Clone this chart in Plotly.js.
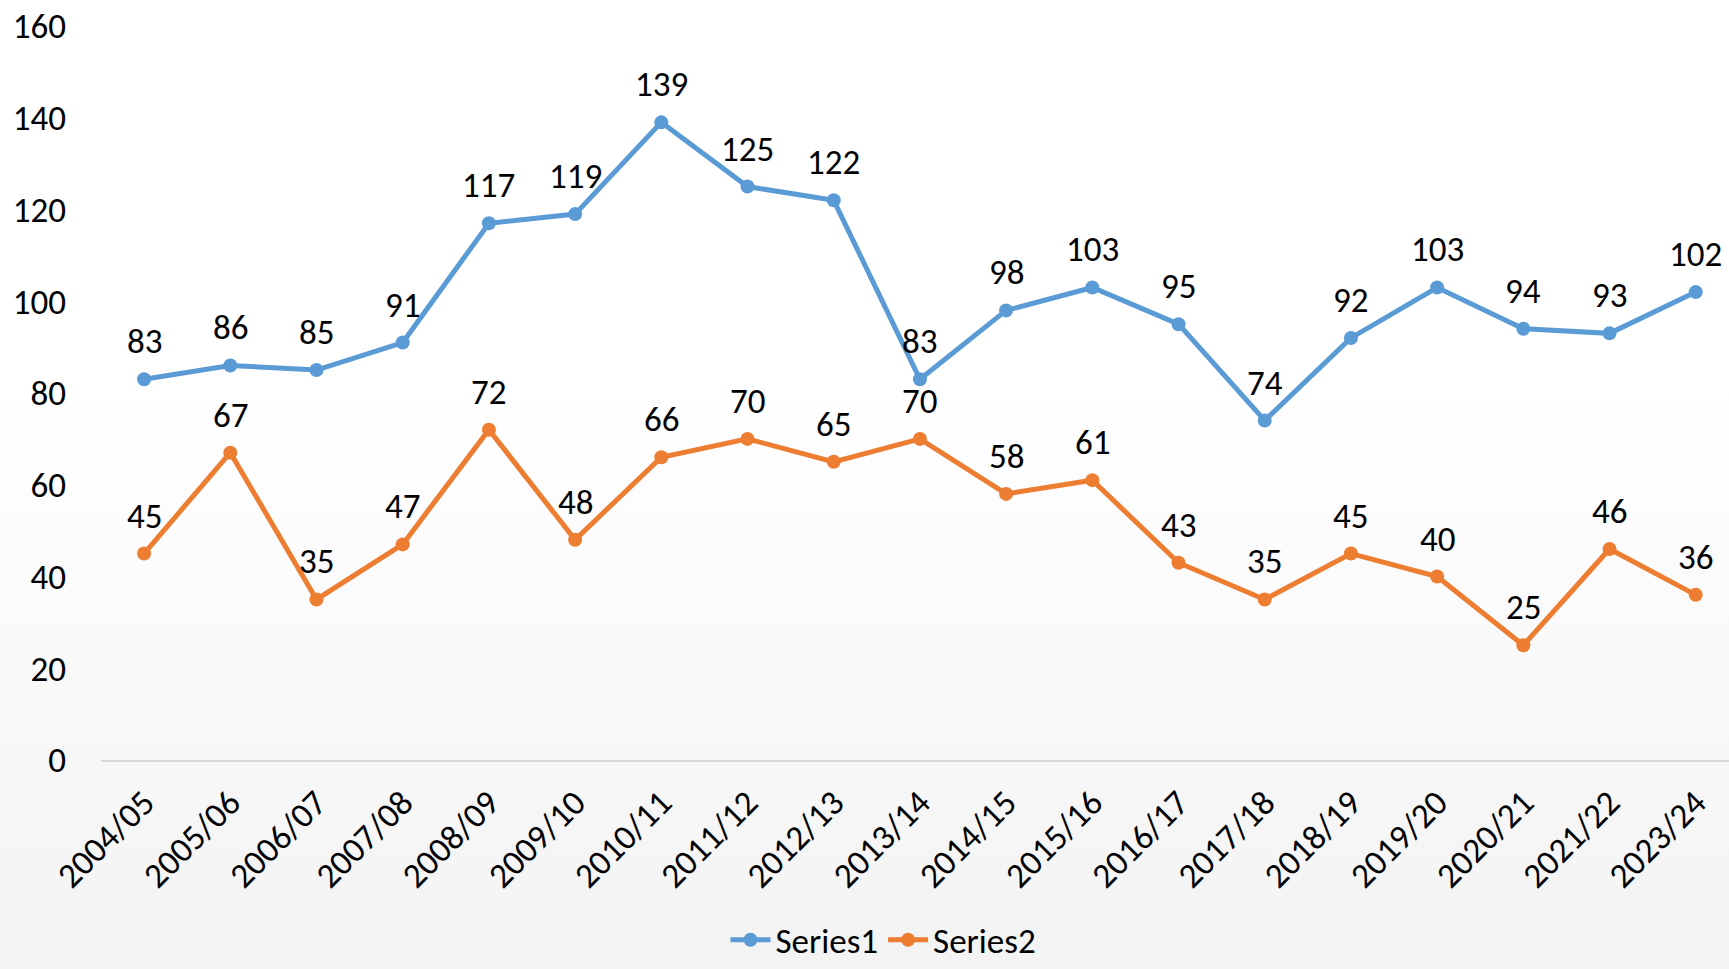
<!DOCTYPE html>
<html>
<head>
<meta charset="utf-8">
<script src="https://cdn.plot.ly/plotly-3.0.1.min.js"></script>
<style>
html,body{margin:0;padding:0;background:#fff;}
#chart{width:1729px;height:969px;}
</style>
</head>
<body>
<div id="chart"></div>
<script>
const categories = ["2004/05","2005/06","2006/07","2007/08","2008/09","2009/10","2010/11","2011/12","2012/13","2013/14","2014/15","2015/16","2016/17","2017/18","2018/19","2019/20","2020/21","2021/22","2023/24"];
const series1 = [83,86,85,91,117,119,139,125,122,83,98,103,95,74,92,103,94,93,102];
const series2 = [45,67,35,47,72,48,66,70,65,70,58,61,43,35,45,40,25,46,36];
const yTicks = [0,20,40,60,80,100,120,140,160];

const FONT = "Carlito, Calibri, 'Open Sans', sans-serif";
const FS = 35;
const blue = "#5B9BD5";
const orange = "#ED7D31";

function trace(name, vals, color) {
  return {
    type: "scatter", mode: "lines+markers", name: name,
    x: categories, y: vals,
    line: {color: color, width: 5},
    marker: {color: color, size: 14},
    cliponaxis: false
  };
}

const annotations = [];
[series1, series2].forEach((vals) => {
  vals.forEach((v, i) => {
    annotations.push({
      x: categories[i], y: v, xref: "x", yref: "y",
      text: String(v), showarrow: false, yshift: 38,
      font: {family: FONT, size: FS, color: "#000"}
    });
  });
});

const bg = 'data:image/svg+xml;utf8,' + encodeURIComponent(
  '<svg xmlns="http://www.w3.org/2000/svg" width="100" height="100" preserveAspectRatio="none">' +
  '<defs><linearGradient id="g" x1="0" y1="0" x2="0" y2="1">' +
  '<stop offset="0" stop-color="#ffffff"/><stop offset="0.4" stop-color="#ffffff"/>' +
  '<stop offset="1" stop-color="#f3f3f3"/></linearGradient></defs>' +
  '<rect width="100" height="100" fill="url(#g)"/></svg>');

const plotW = 1628, plotH = 734;
const layout = {
  width: 1729, height: 969,
  paper_bgcolor: "rgba(0,0,0,0)", plot_bgcolor: "rgba(0,0,0,0)",
  margin: {l: 101, r: 0, t: 26, b: 209},
  font: {family: FONT, size: FS, color: "#000"},
  showlegend: true,
  legend: {
    orientation: "h", xref: "container", yref: "container",
    x: 0.511, xanchor: "center", y: 0.03, yanchor: "middle",
    font: {family: FONT, size: FS, color: "#000"},
    bgcolor: "rgba(0,0,0,0)", itemwidth: 40
  },
  xaxis: {
    type: "category", range: [-0.5, 18.386],
    showgrid: false, zeroline: false,
    showline: true, linecolor: "#d9d9d9", linewidth: 2,
    ticks: "", tickangle: -45, ticklabelstandoff: 6,
    tickfont: {family: FONT, size: FS, color: "#000"}
  },
  yaxis: {
    range: [0, 160], tickvals: yTicks, ticktext: yTicks.map(String),
    showgrid: false, zeroline: false, showline: false,
    ticks: "", ticklabelstandoff: 34,
    tickfont: {family: FONT, size: FS, color: "#000"}
  },
  annotations: annotations,
  images: [{
    source: bg, xref: "paper", yref: "paper",
    x: -101 / plotW, y: 1 + 26 / plotH, sizex: 1729 / plotW, sizey: 969 / plotH,
    xanchor: "left", yanchor: "top", sizing: "stretch", layer: "below"
  }]
};

Plotly.newPlot("chart", [trace("Series1", series1, blue), trace("Series2", series2, orange)], layout, {staticPlot: true, displayModeBar: false});
</script>
</body>
</html>
